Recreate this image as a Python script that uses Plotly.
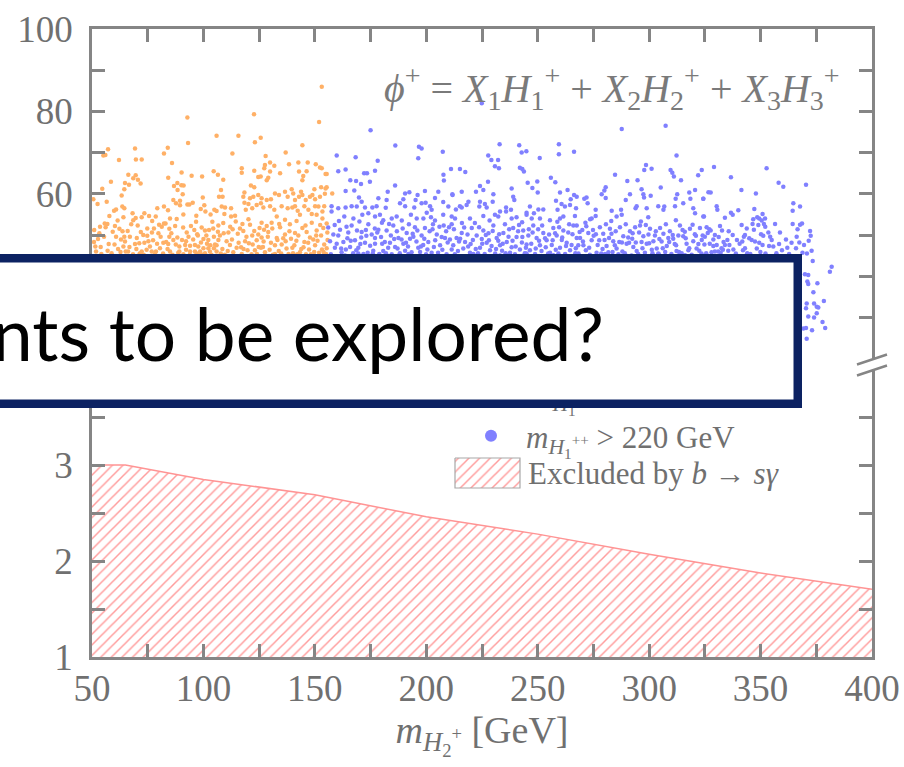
import plotly.graph_objects as go

# ---------------------------------------------------------------- data
# scan points with m_{H1++} < 220 GeV : (m_{H2+} [GeV], y)
light_pts = [
    (153.1, 86.0), (92.8, 78.5), (122.7, 79.3), (151.9, 77.4), (105.9, 74.1), (93.1, 72.3),
    (57.2, 70.8), (55.1, 69.3), (56.0, 69.4), (69.3, 71.0), (82.3, 69.8), (84.0, 71.2),
    (62.1, 68.2), (69.7, 68.3), (72.3, 68.3), (85.9, 67.5), (104.6, 65.5), (106.5, 64.6),
    (90.2, 65.2), (94.7, 64.4), (99.4, 64.2), (84.2, 63.9), (66.3, 64.6), (69.6, 64.5),
    (68.5, 63.8), (70.6, 63.4), (71.8, 62.5), (58.5, 62.9), (64.8, 62.6), (64.5, 61.1),
    (66.6, 62.2), (86.8, 61.9), (88.3, 62.6), (90.1, 62.1), (91.1, 62.0), (88.4, 60.9),
    (90.7, 59.9), (54.6, 61.2), (50.6, 58.7), (52.5, 57.5), (56.6, 58.1), (63.3, 59.6),
    (86.5, 58.5), (87.7, 57.7), (89.5, 58.3), (89.5, 57.2), (92.8, 57.4), (93.7, 57.4),
    (95.2, 57.8), (99.7, 59.1), (100.4, 57.2), (98.8, 56.3), (96.8, 54.7), (100.9, 55.7),
    (103.2, 55.0), (105.9, 55.8), (104.9, 56.1), (59.9, 55.9), (60.8, 56.2), (63.6, 56.9),
    (64.5, 56.5), (64.1, 54.3), (68.2, 55.3), (69.6, 54.1), (68.5, 53.6), (72.3, 54.3),
    (73.5, 55.3), (75.6, 54.6), (78.6, 54.5), (79.3, 56.5), (82.3, 56.9), (84.1, 56.0),
    (85.0, 54.0), (82.3, 52.8), (55.7, 52.8), (56.9, 52.7), (53.6, 52.0), (56.1, 51.9),
    (53.3, 50.4), (51.0, 51.2), (52.7, 49.0), (51.5, 47.2), (60.3, 52.2), (62.3, 51.5),
    (60.8, 49.6), (64.5, 49.6), (67.0, 49.6), (64.1, 47.2), (64.8, 48.4), (65.1, 46.0),
    (69.3, 47.8), (71.2, 48.0), (73.5, 48.1), (76.0, 47.2), (72.3, 46.0), (74.5, 46.4),
    (76.8, 46.0), (74.8, 51.6), (74.8, 49.8), (77.8, 51.6), (79.8, 50.4), (80.8, 49.6),
    (81.3, 52.0), (84.7, 51.5), (83.0, 52.8), (84.7, 49.6), (84.2, 47.8), (86.5, 48.8),
    (88.3, 49.4), (90.4, 48.8), (89.2, 47.2), (92.2, 48.5), (94.0, 47.4), (96.2, 47.6),
    (92.5, 50.6), (94.4, 52.2), (96.7, 53.2), (99.2, 51.8), (100.7, 51.1), (102.5, 51.2),
    (104.4, 51.6), (106.5, 50.8), (104.7, 49.6), (106.7, 48.8), (102.2, 48.8), (100.0, 49.0),
    (97.7, 47.2), (100.0, 46.8), (102.2, 46.8), (104.7, 46.8), (89.2, 46.0), (92.2, 46.4),
    (94.0, 46.0), (96.2, 46.0), (98.5, 46.0), (100.7, 45.6), (102.9, 46.0), (105.9, 46.0),
    (85.0, 46.0), (80.5, 46.8), (78.7, 46.0),
    (115.7, 74.1), (125.7, 73.6), (123.1, 72.5), (144.4, 71.8), (113.0, 69.8), (127.9, 69.2),
    (136.9, 70.0), (117.2, 66.2), (117.2, 65.1), (122.8, 65.6), (124.6, 64.1), (125.7, 64.2),
    (127.6, 67.0), (127.3, 66.2), (129.9, 67.6), (131.8, 66.8), (129.9, 65.4), (134.4, 65.0),
    (138.4, 67.2), (142.6, 67.6), (146.8, 67.6), (142.9, 65.4), (146.3, 65.5), (144.8, 64.3),
    (150.4, 67.2), (152.3, 66.4), (153.1, 66.2), (154.8, 64.8), (144.4, 63.3), (129.1, 63.9),
    (128.4, 63.3),
    (107.9, 60.9), (107.0, 59.3), (108.6, 59.3), (108.9, 63.4), (118.4, 60.3), (117.9, 59.3),
    (121.3, 62.0), (122.8, 61.6), (120.9, 58.9), (122.4, 59.3), (124.6, 59.7), (126.1, 58.9),
    (125.8, 57.7), (128.4, 58.5), (130.3, 58.7), (132.1, 60.1), (133.9, 59.7), (136.6, 60.5),
    (137.8, 59.3), (139.6, 61.1), (140.3, 60.1), (141.1, 58.5), (142.9, 59.3), (143.8, 60.5),
    (144.4, 59.7), (145.9, 58.5), (147.8, 59.3), (148.9, 59.7), (149.8, 61.1), (150.1, 58.7),
    (152.3, 59.3), (152.8, 61.6), (154.8, 61.3), (154.5, 60.0), (150.1, 57.0), (151.6, 56.9),
    (154.2, 57.0), (153.4, 55.7), (108.2, 56.9), (109.7, 56.7), (112.4, 56.5), (109.4, 55.1),
    (112.4, 54.5), (118.4, 57.8), (119.0, 56.1), (120.2, 57.5), (121.9, 56.5), (123.9, 57.3),
    (126.9, 56.7), (129.9, 57.0), (131.8, 56.1), (132.9, 54.5), (135.1, 57.0), (137.8, 56.5),
    (141.1, 57.0), (139.9, 56.7), (142.3, 55.9), (143.3, 54.9), (145.3, 57.0), (147.1, 56.1),
    (148.6, 55.1), (150.8, 54.9), (153.4, 54.0),
    (106.7, 52.3), (108.9, 52.9), (111.2, 50.6), (107.4, 49.9), (110.4, 48.5), (105.9, 47.5),
    (108.5, 46.6), (111.9, 47.6), (113.4, 45.8), (114.5, 53.3), (116.4, 51.6), (115.4, 50.3),
    (117.9, 51.0), (118.7, 48.5), (116.9, 47.0), (119.8, 46.3), (120.9, 52.5), (122.8, 51.0),
    (121.9, 49.9), (124.6, 50.1), (123.9, 48.7), (126.1, 49.4), (125.8, 46.9), (127.6, 45.8),
    (128.4, 52.2), (129.1, 50.7), (130.6, 53.0), (130.3, 48.1), (132.1, 47.5), (132.9, 49.3),
    (134.4, 51.9), (135.1, 47.7), (136.6, 50.1), (137.3, 46.7), (138.8, 52.6), (139.3, 49.1),
    (141.1, 50.5), (140.8, 47.5), (142.6, 49.9), (143.3, 45.8), (144.4, 51.7), (145.3, 48.3),
    (146.3, 50.7), (147.4, 46.5), (148.6, 53.0), (149.3, 48.9), (150.8, 51.1), (150.1, 47.5),
    (151.9, 45.7), (152.8, 49.9), (153.8, 51.7), (154.2, 47.7), (136.6, 53.7), (141.8, 53.4),
    (126.1, 53.0), (120.2, 53.8), (114.2, 54.7), (132.1, 45.4), (123.1, 46.3), (117.2, 45.4),
    (51.8, 46.0), (54.2, 45.4), (57.5, 47.8), (58.8, 45.6), (61.7, 46.6), (63.0, 48.9),
    (66.8, 47.1), (68.4, 45.3), (70.1, 49.3), (71.9, 50.7), (73.2, 45.2), (77.4, 48.7),
    (79.2, 47.9), (81.9, 45.5), (83.3, 48.3), (86.1, 45.2), (87.6, 47.7), (91.0, 45.3),
    (93.3, 49.6), (95.4, 48.9), (97.2, 50.2), (99.0, 45.3), (101.6, 47.9), (103.6, 45.2),
    (105.2, 47.7), (109.6, 45.2), (112.8, 48.9), (114.9, 46.9), (118.0, 46.6), (120.4, 48.0),
    (121.6, 45.3), (124.8, 47.1), (127.0, 48.4), (129.7, 46.4), (131.2, 45.2), (133.8, 46.1),
    (135.8, 49.2), (138.2, 45.4), (139.9, 46.9), (142.1, 45.3), (144.9, 47.0), (146.0, 45.3),
    (147.8, 49.4), (149.7, 45.9), (151.2, 48.6), (153.2, 46.5), (155.0, 45.4), (134.0, 52.7),
    (127.2, 51.3), (112.0, 52.0), (57.8, 54.6), (61.5, 53.5), (66.0, 51.0), (70.5, 52.3),
    (77.0, 53.4), (88.0, 53.9), (91.0, 55.0), (97.5, 49.9),
    (50.9, 48.3), (53.9, 47.1), (55.4, 49.6), (57.0, 46.2), (59.3, 50.8), (60.1, 47.7),
    (62.8, 45.9), (63.7, 50.9), (66.2, 46.0), (67.6, 52.6), (69.9, 46.6), (71.4, 45.5),
    (73.0, 50.0), (75.3, 48.5), (76.9, 50.6), (78.2, 45.4), (80.1, 52.5), (82.0, 48.1),
    (83.9, 46.6), (85.6, 50.4), (87.3, 52.2), (88.7, 45.7), (90.9, 51.8), (91.8, 47.6),
    (93.9, 45.2), (95.9, 51.2), (97.0, 45.5), (98.9, 48.2), (101.3, 49.9), (103.1, 47.5),
    (104.0, 53.2), (107.8, 45.5), (109.1, 50.4), (110.9, 46.1), (113.1, 51.4), (115.8, 48.1),
    (117.5, 52.7), (119.3, 49.6), (122.1, 47.7), (124.0, 45.4), (125.2, 51.7), (126.7, 47.1),
    (128.9, 49.6), (130.9, 51.6), (133.2, 48.8), (134.9, 45.5), (136.9, 48.5), (138.6, 50.9),
    (140.2, 45.6), (141.7, 48.6), (143.9, 46.6), (145.8, 52.3), (147.0, 48.1), (148.2, 45.3),
    (150.6, 49.9), (152.4, 52.4), (153.9, 45.9), (155.6, 50.6),
    (155.3, 64.8), (155.3, 61.6), (157.8, 60.1), (155.3, 52.8), (155.7, 48.8), (155.3, 46.8),
]

# scan points with m_{H1++} > 220 GeV : (m_{H2+} [GeV], y)
heavy_pts = [
    (175.0, 75.4), (224.9, 82.0), (287.7, 75.7), (307.4, 76.5),
    (186.1, 71.7), (196.7, 71.4), (197.9, 71.0), (207.4, 70.2), (159.8, 69.3), (168.3, 68.9),
    (196.4, 68.6), (178.2, 68.0), (160.5, 65.5), (163.8, 65.9), (172.1, 65.0), (173.4, 65.0),
    (177.0, 65.6), (211.1, 66.0), (207.7, 64.6), (165.9, 63.3), (168.5, 63.1), (170.7, 62.4),
    (174.7, 62.9), (186.0, 62.0), (207.9, 63.2), (163.8, 60.7), (167.7, 60.8),
    (182.7, 60.5), (190.5, 60.1), (192.4, 60.4), (196.1, 59.7), (199.4, 60.7), (205.4, 60.5),
    (211.7, 59.9), (169.8, 59.1), (178.5, 58.9), (182.2, 58.5), (189.7, 58.7), (195.2, 58.5),
    (199.7, 57.8), (203.9, 59.0), (207.6, 58.0), (157.5, 57.0), (160.5, 56.5), (163.8, 56.7),
    (166.5, 57.0), (168.8, 56.9), (171.0, 58.1), (172.5, 56.7), (175.8, 56.7), (177.7, 57.0),
    (181.8, 56.6), (188.2, 57.7), (190.5, 57.0), (194.6, 56.7), (197.9, 57.7), (201.7, 57.0),
    (202.4, 56.1), (209.9, 56.9), (157.5, 55.7), (163.2, 54.5), (167.3, 54.0), (171.3, 54.9),
    (174.0, 55.3), (177.0, 54.5), (179.2, 54.9), (180.7, 53.6), (184.5, 54.0), (186.7, 54.5),
    (189.0, 53.5), (193.1, 54.9), (195.7, 54.0), (198.7, 54.0), (200.2, 55.4), (202.1, 54.3),
    (203.9, 53.5), (207.6, 54.9), (211.4, 54.5),
    (156.0, 51.8), (158.3, 50.1), (156.8, 48.5), (160.5, 49.9), (159.0, 46.9), (162.8, 48.3),
    (162.0, 45.8), (165.0, 50.6), (166.5, 52.3), (168.0, 48.7), (165.8, 47.1), (169.5, 46.9),
    (171.0, 50.7), (172.5, 48.1), (174.0, 52.6), (173.7, 45.7), (175.5, 50.1), (177.0, 47.9),
    (178.5, 51.3), (179.7, 49.5), (180.7, 46.1), (182.2, 51.1), (183.7, 48.1), (185.2, 52.3),
    (186.0, 47.1), (187.5, 49.3), (189.7, 47.9), (191.2, 50.5), (192.7, 49.1), (193.4, 45.8),
    (194.9, 51.9), (196.4, 46.9), (197.9, 49.9), (199.4, 51.7), (200.9, 48.3), (202.4, 45.7),
    (204.7, 50.1), (206.2, 47.5), (208.4, 49.3), (210.2, 51.9), (211.4, 46.5), (209.1, 45.3),
    (197.2, 45.9), (184.5, 45.3), (169.5, 45.5), (163.5, 45.0), (177.0, 49.3), (190.5, 46.2),
    (157.2, 45.3), (159.8, 47.9), (161.3, 51.3), (163.9, 46.5), (164.6, 49.2), (167.2, 45.6),
    (168.9, 51.1), (170.4, 47.8), (171.8, 45.4), (173.1, 49.8), (176.2, 46.2), (176.9, 51.6),
    (178.9, 45.4), (181.4, 48.3), (182.9, 46.9), (184.1, 49.9), (186.8, 50.9), (188.1, 45.6),
    (188.9, 48.9), (191.8, 47.2), (193.9, 50.3), (195.6, 48.4), (198.6, 47.6), (199.9, 45.3),
    (201.5, 50.9), (203.4, 47.1), (205.3, 45.7), (206.9, 49.5), (207.8, 52.3), (209.6, 48.2),
    (192.2, 52.6), (180.1, 53.0), (170.0, 53.3), (160.8, 53.4), (203.0, 52.6),
    (158.9, 52.4), (161.8, 46.7), (164.2, 52.0), (166.1, 48.6), (168.6, 46.3), (170.8, 49.4),
    (172.9, 51.2), (174.8, 47.4), (176.0, 45.5), (178.0, 50.6), (180.2, 47.9), (181.9, 45.6),
    (183.3, 52.7), (185.6, 49.0), (187.1, 46.7), (189.4, 51.6), (190.9, 48.1), (192.0, 45.4),
    (194.2, 49.6), (196.0, 51.1), (197.6, 47.2), (199.1, 49.1), (200.5, 46.5), (202.8, 51.4),
    (204.0, 48.7), (205.9, 52.0), (207.2, 46.4), (208.9, 50.9), (210.6, 48.9),
    (232.9, 72.0), (241.7, 71.8), (259.5, 72.0), (227.8, 69.3), (229.2, 68.2), (232.2, 68.2),
    (242.8, 70.0), (244.9, 70.3), (250.9, 68.7), (259.5, 69.6), (266.3, 70.2), (230.8, 66.7),
    (232.6, 66.2), (242.0, 66.3), (243.1, 66.0), (243.8, 65.4), (215.1, 66.0), (217.5, 65.3),
    (255.9, 63.9), (257.9, 62.8), (245.5, 62.7), (247.6, 61.4), (249.8, 63.0), (227.7, 62.9),
    (224.1, 61.9), (225.6, 60.9), (222.3, 60.5), (215.9, 60.5), (211.8, 59.7), (238.3, 61.3),
    (239.0, 59.3), (239.5, 58.5), (230.1, 59.9), (229.8, 58.1), (250.0, 60.3), (260.0, 60.3),
    (263.4, 60.9), (264.8, 58.7), (266.3, 59.7), (258.2, 58.3), (218.9, 58.1), (218.1, 57.3),
    (215.1, 57.0), (215.9, 56.7), (213.3, 56.2), (224.1, 58.1), (226.3, 57.5), (227.1, 56.7),
    (223.8, 56.9), (235.8, 56.7), (238.0, 56.1), (233.1, 55.7), (235.8, 55.7), (246.5, 56.9),
    (245.0, 55.4), (248.3, 55.3), (250.3, 56.2), (252.5, 56.2), (260.7, 57.5), (262.2, 56.9),
    (264.5, 57.3), (267.2, 56.5), (258.9, 56.1), (212.9, 54.0), (219.6, 54.0), (225.6, 54.6),
    (230.8, 54.9), (232.3, 54.5), (238.3, 54.0), (240.5, 54.3), (245.0, 54.9), (247.3, 54.0),
    (251.0, 54.0), (255.5, 53.6), (260.0, 54.0), (261.5, 54.5), (266.7, 54.6),
    (211.4, 52.6), (213.6, 49.3), (212.1, 47.5), (215.9, 50.5), (217.4, 48.3), (219.6, 45.7),
    (220.4, 51.7), (222.6, 49.9), (224.1, 46.9), (225.6, 51.1), (227.1, 48.1), (228.6, 46.3),
    (230.1, 52.3), (231.6, 49.3), (233.1, 47.5), (234.6, 50.5), (236.1, 48.3), (237.6, 45.7),
    (239.0, 51.7), (240.5, 49.5), (242.0, 46.5), (243.5, 51.1), (245.0, 47.7), (246.5, 46.3),
    (248.0, 52.3), (249.5, 49.3), (251.0, 47.5), (252.5, 50.5), (254.0, 48.7), (255.5, 45.7),
    (257.0, 51.7), (258.5, 49.9), (260.0, 46.9), (261.5, 51.1), (263.0, 48.1), (264.5, 46.3),
    (266.0, 52.3), (267.5, 49.3), (268.2, 47.5), (221.1, 45.4), (233.1, 45.0), (245.0, 45.5),
    (257.0, 45.1),
    (212.8, 45.3), (214.7, 48.4), (216.6, 46.7), (218.5, 50.1), (219.9, 47.8), (221.8, 52.9),
    (223.2, 45.6), (224.9, 49.0), (226.2, 45.4), (227.9, 50.4), (229.3, 47.3), (230.9, 45.5),
    (232.3, 48.6), (234.0, 46.2), (235.3, 52.6), (236.9, 49.6), (238.3, 47.0), (239.8, 45.3),
    (241.2, 50.9), (242.9, 48.2), (244.2, 45.6), (245.8, 49.9), (247.1, 47.9), (248.8, 45.4),
    (250.2, 51.4), (251.7, 46.1), (253.3, 49.2), (254.7, 45.5), (256.3, 47.6), (257.8, 50.4),
    (259.3, 45.5), (260.8, 48.8), (262.3, 45.4), (263.7, 50.6), (265.2, 47.6), (266.9, 45.6),
    (243.0, 53.1), (228.4, 53.5), (216.0, 52.9), (258.8, 53.2),
    (212.4, 51.4), (214.2, 46.1), (215.2, 49.1), (217.0, 51.8), (218.8, 47.2), (220.9, 48.8),
    (222.2, 46.6), (223.7, 51.9), (225.1, 47.9), (226.7, 50.0), (228.1, 48.7), (229.8, 51.0),
    (231.3, 46.6), (232.7, 50.2), (234.3, 47.9), (235.6, 45.6), (237.2, 51.4), (238.7, 48.6),
    (240.1, 47.2), (241.6, 52.4), (243.1, 49.5), (244.7, 46.9), (246.0, 51.4), (247.7, 50.6),
    (249.1, 46.7), (250.6, 48.6), (252.0, 52.3), (253.6, 47.0), (255.1, 50.1), (256.7, 48.7),
    (258.1, 46.4), (259.6, 51.9), (261.0, 49.4), (262.7, 47.3), (264.1, 52.6), (265.6, 50.2),
    (267.1, 46.8),
    (312.3, 69.3), (298.6, 67.0), (297.8, 65.8), (301.1, 66.1), (309.6, 65.8), (310.4, 65.1),
    (311.1, 64.2), (323.6, 65.8), (322.0, 64.5), (284.7, 64.6), (290.2, 63.1), (294.8, 63.3),
    (314.3, 63.3), (280.5, 61.6), (279.9, 60.8), (278.7, 59.9), (280.5, 59.0), (296.6, 61.1),
    (297.4, 59.9), (297.7, 59.1), (300.7, 59.5), (305.2, 61.5), (318.0, 60.3), (320.6, 60.9),
    (312.6, 59.9), (311.9, 58.8), (318.5, 58.8), (324.3, 58.8), (291.4, 59.9), (289.5, 58.5),
    (270.9, 58.8), (271.9, 59.1), (272.4, 57.7), (267.5, 59.3),
    (276.0, 56.1), (274.2, 54.0), (273.5, 53.8), (276.0, 54.6), (283.2, 55.9), (285.4, 54.5),
    (287.4, 56.1), (287.7, 54.9), (294.4, 57.0), (293.9, 56.5), (298.9, 56.5), (299.6, 54.3),
    (304.1, 57.0), (306.8, 56.9), (306.4, 56.1), (311.6, 57.0), (315.3, 57.7), (319.8, 56.5),
    (320.6, 55.3), (324.3, 54.5),
    (267.5, 52.3), (269.0, 49.3), (270.5, 47.5), (272.7, 50.5), (274.2, 48.7), (276.4, 45.7),
    (277.9, 51.9), (279.4, 50.3), (280.9, 47.3), (282.4, 51.5), (283.9, 48.5), (285.4, 46.7),
    (286.9, 51.9), (288.4, 49.7), (289.9, 47.9), (291.4, 50.9), (292.4, 49.1), (294.4, 46.1),
    (295.9, 52.3), (297.4, 49.7), (298.9, 47.9), (300.4, 51.5), (301.9, 48.5), (303.4, 46.7),
    (304.9, 51.7), (306.4, 50.3), (307.9, 47.3), (309.3, 50.9), (310.8, 49.1), (312.3, 46.1),
    (313.8, 52.3), (315.3, 49.7), (316.8, 47.9), (318.3, 51.5), (319.8, 48.5), (321.3, 46.7),
    (322.8, 51.7), (324.0, 49.9), (280.2, 45.4), (292.1, 45.0), (304.1, 45.5), (316.1, 45.1),
    (268.3, 45.5), (270.0, 51.2), (271.6, 46.3), (273.4, 45.2), (275.1, 49.8), (276.9, 47.6),
    (278.5, 45.5), (280.0, 48.8), (281.7, 45.8), (283.1, 50.3), (284.6, 47.5), (286.2, 45.3),
    (287.8, 48.2), (289.1, 45.6), (290.6, 49.4), (292.9, 47.1), (293.7, 51.9), (295.1, 45.4),
    (296.6, 48.3), (298.1, 45.7), (299.7, 50.1), (301.2, 46.4), (302.6, 49.9), (304.3, 45.3),
    (305.6, 48.4), (307.2, 45.9), (308.6, 49.3), (310.0, 45.4), (311.5, 47.8), (313.1, 49.9),
    (314.6, 45.6), (316.0, 50.8), (317.6, 46.3), (319.1, 45.2), (320.5, 50.2), (322.1, 47.8),
    (323.5, 45.5), (296.3, 53.3), (283.0, 53.4), (271.4, 53.0), (312.0, 53.6),
    (268.8, 50.7), (270.3, 48.4), (271.8, 52.1), (273.1, 46.9), (274.8, 51.2), (276.1, 50.2),
    (277.6, 48.7), (279.1, 46.6), (280.6, 52.6), (282.0, 49.3), (283.6, 45.9), (285.0, 50.9),
    (286.6, 48.3), (288.0, 46.0), (289.5, 52.6), (291.0, 48.1), (292.6, 50.4), (294.0, 48.2),
    (295.5, 50.6), (297.0, 46.8), (298.5, 52.4), (300.0, 48.0), (301.5, 45.6), (303.0, 50.9),
    (304.6, 49.0), (306.1, 46.8), (307.5, 52.6), (309.0, 48.3), (310.6, 50.0), (312.1, 47.5),
    (313.4, 45.9), (315.0, 51.2), (316.4, 49.2), (318.0, 46.8), (319.5, 52.5), (321.0, 49.8),
    (322.5, 46.2),
    (329.1, 66.5), (352.7, 66.2), (336.7, 64.0), (358.1, 62.7), (360.2, 61.7), (370.4, 62.2),
    (341.4, 60.9), (347.9, 60.1), (326.6, 60.4), (327.6, 60.3), (324.3, 58.8), (330.3, 57.0),
    (330.6, 56.1), (340.0, 56.0), (347.2, 56.3), (364.7, 57.7), (367.7, 56.9), (364.4, 55.9),
    (324.6, 54.5), (334.0, 54.2), (336.7, 55.4), (337.5, 54.9), (346.7, 53.8), (348.5, 54.3),
    (349.4, 54.0), (350.9, 55.1), (352.0, 54.0), (350.5, 53.5), (341.5, 52.4), (343.8, 51.6),
    (346.4, 52.7), (349.0, 52.4), (351.5, 52.7), (352.1, 52.0), (356.5, 52.7), (364.4, 52.7),
    (367.7, 52.5), (368.6, 52.8), (325.8, 51.9), (327.0, 51.4), (327.6, 51.1), (331.8, 52.2),
    (332.7, 51.1), (372.2, 51.0), (372.5, 49.8), (366.2, 49.6), (367.4, 48.2), (353.5, 50.6),
    (351.2, 49.8), (350.2, 50.2), (343.0, 50.0), (342.5, 49.6), (341.8, 48.4), (337.5, 50.0),
    (335.1, 48.8), (329.5, 50.0), (328.8, 48.9), (325.0, 49.6), (323.6, 48.8), (346.0, 48.8),
    (347.5, 48.4), (349.4, 48.1), (350.9, 47.6), (355.0, 48.8), (355.7, 47.2), (358.3, 47.8),
    (363.9, 48.1), (328.8, 47.3), (330.3, 47.6), (329.5, 46.0), (331.0, 46.0), (332.1, 45.7),
    (334.0, 47.6), (336.0, 47.6), (337.8, 46.5), (343.0, 46.8), (344.0, 45.6), (332.5, 46.8),
    (335.5, 46.2), (325.6, 45.6), (327.2, 47.9), (333.4, 48.3), (338.9, 45.5), (340.6, 47.9),
    (345.4, 45.4), (348.3, 46.7), (352.2, 45.5), (353.8, 47.3), (357.1, 45.6), (359.6, 46.3),
    (361.4, 48.9), (362.8, 45.4), (365.9, 46.8), (368.8, 45.7), (366.6, 51.4), (369.5, 47.6),
    (370.8, 45.5), (372.9, 46.2), (371.6, 48.6),
    (324.8, 47.7), (326.3, 50.5), (328.0, 45.8), (331.2, 49.5), (333.1, 46.4), (335.7, 50.9),
    (339.4, 48.8), (342.1, 46.3), (344.9, 49.2), (347.0, 51.3), (349.9, 45.9), (354.3, 49.6),
    (358.7, 50.6), (362.0, 46.9),
    (373.4, 43.7), (381.9, 42.3), (381.1, 41.1), (369.9, 40.5), (371.4, 40.3), (371.0, 38.7),
    (371.4, 38.1), (375.5, 38.3), (373.7, 36.1), (378.4, 34.0), (370.7, 33.4), (370.4, 32.2),
    (374.0, 33.4), (375.2, 32.6), (375.9, 32.4), (375.2, 31.0), (371.4, 30.2), (374.0, 30.0),
    (377.8, 28.9), (379.0, 27.4), (369.2, 27.3), (370.4, 27.4), (373.1, 26.9), (370.7, 24.8),
]

# b -> s gamma exclusion boundary (excluded below the curve)
bsg_mh2 = [50, 65, 100, 150, 200, 250, 300, 350, 400]
bsg_y = [3.0, 3.0, 2.85, 2.69, 2.46, 2.28, 2.07, 1.875, 1.705]

x_tickvals = [50, 75, 100, 125, 150, 175, 200, 225, 250, 275, 300, 325, 350, 375, 400]
x_ticktext = ["50", "", "100", "", "150", "", "200", "", "250", "", "300", "", "350", "", "400"]
ylo_tickvals = [1, 1.5, 2, 2.5, 3, 3.5]
ylo_ticktext = ["1", "", "2", "", "3", ""]
yhi_tickvals = [30, 40, 50, 60, 70, 80, 90, 100]
yhi_ticktext = ["", "", "", "60", "", "80", "", "100"]

# ---------------------------------------------------------------- layout helpers
W, H = 904, 767
ML, MR, MT, MB = 92, 32, 29, 110
PW, PH = W - ML - MR, H - MT - MB


def fx(px):
    return (px - ML) / PW


def fy(py):
    return (H - MB - py) / PH


AXIS = "#858585"
TXT = "#707070"
SERIF = "Liberation Serif, DejaVu Serif, serif"
ORANGE = "#ffb066"
BLUE = "#8080ff"
HATCH = "#ff9c9c"
LEG_FONT = dict(family=SERIF, size=31, color=TXT)

fig = go.Figure()

fig.add_trace(go.Scatter(
    x=[p[0] for p in light_pts], y=[p[1] for p in light_pts],
    xaxis="x2", yaxis="y2", mode="markers",
    marker=dict(size=4.5, color=ORANGE),
    name="<i>m</i><sub><i>H</i><sub>1</sub><sup>++</sup></sub> &lt; 220 GeV",
    legend="legend",
))
fig.add_trace(go.Scatter(
    x=[p[0] for p in heavy_pts], y=[p[1] for p in heavy_pts],
    xaxis="x2", yaxis="y2", mode="markers",
    marker=dict(size=4.5, color=BLUE),
    name="<i>m</i><sub><i>H</i><sub>1</sub><sup>++</sup></sub> &gt; 220 GeV",
    legend="legend2",
))
# excluded region: hatched down to the bottom of the panel
fig.add_trace(go.Scatter(
    x=bsg_mh2, y=bsg_y, xaxis="x", yaxis="y", mode="lines", fill="tozeroy",
    line=dict(color="#ff9494", width=1.5),
    fillcolor="rgba(255,255,255,0)",
    fillpattern=dict(shape="/", size=7.5, solidity=0.2, fgcolor=HATCH,
                     bgcolor="rgba(255,255,255,0)"),
    showlegend=False,
))

# legend key for the hatched region, drawn on a pixel-scaled helper pane
key_x = [455, 520, 520, 455, 455]
key_y = [458, 458, 488, 488, 458]
fig.add_trace(go.Scatter(
    x=key_x, y=key_y, xaxis="x3", yaxis="y3", mode="lines", fill="toself",
    line=dict(color="#a8a8a8", width=1.2),
    fillcolor="rgba(255,255,255,0)",
    fillpattern=dict(shape="/", size=7.5, solidity=0.2, fgcolor=HATCH,
                     bgcolor="rgba(255,255,255,0)"),
    showlegend=False, hoverinfo="skip",
))

common = dict(
    showline=True, linecolor=AXIS, linewidth=2.5,
    ticks="inside", ticklen=13, tickwidth=2.5, tickcolor=AXIS,
    showgrid=False, zeroline=False, automargin=False,
    tickfont=dict(family=SERIF, size=37, color=TXT),
)

top_lo = fy(358.6)
bot_hi = fy(369)

fig.update_layout(
    template="none",
    width=W, height=H,
    margin=dict(l=ML, r=MR, t=MT, b=MB, autoexpand=False),
    paper_bgcolor="white", plot_bgcolor="rgba(0,0,0,0)",
    showlegend=True,
    xaxis=dict(common, domain=[0, 1], range=[50, 400], anchor="y",
               tickmode="array", tickvals=x_tickvals, ticktext=x_ticktext,
               ticklabelstandoff=-3,
               title=dict(text="<i>m</i><sub><i>H</i><sub>2</sub><sup>+</sup></sub> [GeV]",
                          font=dict(family=SERIF, size=38, color=TXT), standoff=8)),
    xaxis2=dict(common, domain=[0, 1], range=[50, 400], anchor="y2", side="top",
                matches="x", showticklabels=False,
                tickmode="array", tickvals=x_tickvals),
    yaxis=dict(common, domain=[0, bot_hi], range=[1, 4], anchor="x", mirror="ticks",
               tickmode="array", tickvals=ylo_tickvals, ticktext=ylo_ticktext,
               ticklabelstandoff=9),
    yaxis2=dict(common, domain=[top_lo, 1], range=[20, 100], anchor="x2", mirror="ticks",
                tickmode="array", tickvals=yhi_tickvals, ticktext=yhi_ticktext,
                ticklabelstandoff=9),
    xaxis3=dict(domain=[0, 1], range=[ML, W - MR], anchor="y3", visible=False,
                fixedrange=True),
    yaxis3=dict(domain=[0, 1], range=[H - MB, MT], anchor="x3", visible=False,
                fixedrange=True),
    legend=dict(x=fx(460), y=fy(393), xanchor="left", yanchor="middle",
                bgcolor="rgba(0,0,0,0)", itemsizing="constant", itemwidth=60,
                font=LEG_FONT),
    legend2=dict(x=fx(456), y=fy(436), xanchor="left", yanchor="middle",
                 bgcolor="rgba(0,0,0,0)", itemsizing="constant", itemwidth=60,
                 font=LEG_FONT),
)

# broken-axis markers on both spines
for xc in (0, 1):
    for y0, y1 in ((fy(364.5), fy(354.5)), (fy(375.5), fy(365.5))):
        fig.add_shape(type="line", xref="paper", yref="paper",
                      x0=xc - 15 / PW, x1=xc + 15 / PW, y0=y0, y1=y1,
                      line=dict(color=AXIS, width=2.5), layer="above")

# label of the hatched legend key
fig.add_annotation(
    xref="paper", yref="paper", x=fx(526), y=fy(473), xanchor="left", yanchor="middle",
    showarrow=False, text="Excluded by <i>b</i> → <i>sγ</i>", font=LEG_FONT,
)

# field decomposition label
fig.add_annotation(
    xref="paper", yref="paper", x=fx(842), y=fy(88), xanchor="right", yanchor="middle",
    showarrow=False,
    text=("<i>ϕ</i><sup>+</sup> = <i>X</i><sub>1</sub><i>H</i><sub>1</sub><sup>+</sup>"
          " + <i>X</i><sub>2</sub><i>H</i><sub>2</sub><sup>+</sup>"
          " + <i>X</i><sub>3</sub><i>H</i><sub>3</sub><sup>+</sup>"),
    font=dict(family=SERIF, size=40, color="#7a7a7a"),
)

# question banner laid over the plot
fig.add_annotation(
    xref="paper", yref="paper", x=fx(802), y=fy(254), xanchor="right", yanchor="top",
    showarrow=False, text="&nbsp;", width=815, height=137, borderpad=0,
    bgcolor="white", bordercolor="#0c2262", borderwidth=8.5,
)
fig.add_annotation(
    xref="paper", yref="paper", x=fx(606), y=fy(333), xanchor="right", yanchor="middle",
    showarrow=False, text="nts to be explored?",
    font=dict(family="Lato, Noto Sans, sans-serif", size=73, color="black"),
)

fig.write_html("out.html")
